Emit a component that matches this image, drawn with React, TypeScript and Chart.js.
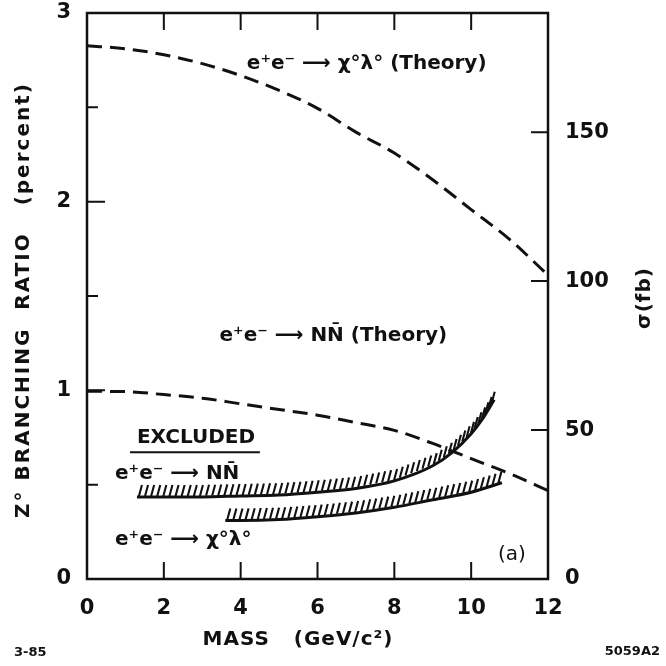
import React, { useEffect, useRef } from 'react';
import { Chart, registerables } from 'chart.js';

Chart.register(...registerables);

// ---- data ----
const massTheory = [0, 1, 2, 3, 4, 5, 6, 7, 8, 9, 10, 11, 12];
const sigmaChiLambdaTheory = [179, 178, 176, 173, 169, 164, 158, 150, 143, 134, 124, 114, 102];
const sigmaNNbarTheory = [63, 62.9, 61.9, 60.7, 58.8, 56.9, 55, 52.5, 49.9, 45.5, 40.4, 35.4, 29.7];
const massNNbarExcl = [1.3, 2, 3, 4, 5, 6, 7, 8, 9, 9.5, 10, 10.3, 10.6];
const brNNbarExcl = [0.435, 0.435, 0.435, 0.44, 0.445, 0.46, 0.48, 0.52, 0.6, 0.67, 0.77, 0.85, 0.95];
const massChiExcl = [3.6, 4, 5, 6, 7, 8, 9, 10, 10.8];
const brChiExcl = [0.31, 0.31, 0.315, 0.33, 0.35, 0.38, 0.42, 0.46, 0.51];
const massTicks = [0, 2, 4, 6, 8, 10, 12];
const brTicks = [0, 0.5, 1, 1.5, 2, 2.5, 3];
const brLabels = [0, 1, 2, 3];
const sigmaTicks = [0, 50, 100, 150];

const INK = '#111';
const FONT = "'DejaVu Sans', 'Liberation Sans', sans-serif";

const toPts = (xs: number[], ys: number[]) => xs.map((x, i) => ({ x, y: ys[i] }));

const framePlugin = {
  id: 'frame',
  afterDatasetsDraw(chart: any) {
    const { ctx, chartArea: a, scales } = chart;
    const sx = scales.x, sy = scales.y, s2 = scales.y2;
    ctx.save();
    ctx.strokeStyle = INK;
    ctx.lineWidth = 2.5;
    ctx.strokeRect(a.left, a.top, a.right - a.left, a.bottom - a.top);
    ctx.lineWidth = 2;
    ctx.beginPath();
    massTicks.forEach((v) => {
      if (v === 0 || v === 12) return;
      const px = sx.getPixelForValue(v);
      ctx.moveTo(px, a.bottom);
      ctx.lineTo(px, a.bottom - 17);
      ctx.moveTo(px, a.top);
      ctx.lineTo(px, a.top + 17);
    });
    brTicks.forEach((v) => {
      if (v === 0 || v === 3) return;
      const py = sy.getPixelForValue(v);
      const len = Number.isInteger(v) ? 18 : 11;
      ctx.moveTo(a.left, py);
      ctx.lineTo(a.left + len, py);
    });
    sigmaTicks.forEach((v) => {
      if (v === 0) return;
      const py = s2.getPixelForValue(v);
      ctx.moveTo(a.right, py);
      ctx.lineTo(a.right - 17, py);
    });
    ctx.stroke();
    ctx.restore();
  },
};

const hatchPlugin = {
  id: 'hatch',
  afterDatasetsDraw(chart: any) {
    const ctx = chart.ctx;
    chart.data.datasets.forEach((ds: any, i: number) => {
      if (!ds.hatch) return;
      const pts = chart.getDatasetMeta(i).data.map((p: any) => ({ x: p.x, y: p.y }));
      ctx.save();
      ctx.strokeStyle = INK;
      ctx.lineWidth = 2.1;
      const spacing = 6.1;
      let carry = 2;
      ctx.beginPath();
      for (let k = 0; k < pts.length - 1; k++) {
        const p = pts[k], q = pts[k + 1];
        const dx = q.x - p.x, dy = q.y - p.y;
        const len = Math.hypot(dx, dy);
        let d = carry;
        while (d <= len) {
          const t = d / len;
          const x = p.x + dx * t, y = p.y + dy * t;
          ctx.moveTo(x, y - 1);
          ctx.lineTo(x + 3, y - 12);
          d += spacing;
        }
        carry = d - len;
      }
      ctx.stroke();
      ctx.restore();
    });
  },
};

const textPlugin = {
  id: 'texts',
  afterDraw(chart: any) {
    const { ctx, scales } = chart;
    const sx = scales.x, sy = scales.y;
    const put = (s: string, gx: number, gy: number, size: number, weight = 'bold') => {
      ctx.font = `${weight} ${size}px ${FONT}`;
      ctx.textAlign = 'left';
      ctx.textBaseline = 'middle';
      ctx.fillText(s, sx.getPixelForValue(gx), sy.getPixelForValue(gy));
    };
    ctx.save();
    ctx.fillStyle = INK;
    put('e\u207Ae\u207B \u27F6 \u03C7\u00B0\u03BB\u00B0 (Theory)', 4.16, 2.73, 20);
    put('e\u207Ae\u207B \u27F6 NN\u0304 (Theory)', 3.45, 1.29, 20);
    put('EXCLUDED', 1.3, 0.75, 20);
    put('e\u207Ae\u207B \u27F6 NN\u0304', 0.73, 0.556, 20);
    put('e\u207Ae\u207B \u27F6 \u03C7\u00B0\u03BB\u00B0', 0.73, 0.207, 20);
    put('(a)', 10.7, 0.127, 20, 'normal');
    // underline of EXCLUDED
    ctx.strokeStyle = INK;
    ctx.lineWidth = 2;
    ctx.beginPath();
    ctx.moveTo(sx.getPixelForValue(1.12), sy.getPixelForValue(0.672));
    ctx.lineTo(sx.getPixelForValue(4.5), sy.getPixelForValue(0.672));
    ctx.stroke();

    // axis titles
    ctx.textAlign = 'center';
    ctx.textBaseline = 'middle';
    ctx.font = `bold 20px ${FONT}`;
    (ctx as any).letterSpacing = '1px';
    ctx.fillText('MASS   (GeV/c\u00B2)', 298, 640);
    ctx.save();
    ctx.translate(24, 300);
    ctx.rotate(-Math.PI / 2);
    (ctx as any).letterSpacing = '2px';
    ctx.fillText('Z\u00B0 BRANCHING  RATIO   (percent)', 0, 0);
    ctx.restore();
    ctx.save();
    ctx.translate(645, 298);
    ctx.rotate(-Math.PI / 2);
    ctx.fillText('\u03C3(fb)', 0, 0);
    ctx.restore();
    (ctx as any).letterSpacing = '0px';
    ctx.font = `bold 13px ${FONT}`;
    ctx.textAlign = 'left';
    ctx.fillText('3-85', 14, 653);
    ctx.textAlign = 'right';
    ctx.fillText('5059A2', 660, 652);
    ctx.restore();
  },
};

export default function App() {
  const ref = useRef<HTMLCanvasElement | null>(null);
  useEffect(() => {
    if (!ref.current) return;
    const tickFont = { family: FONT, size: 21, weight: 'bold' as const };
    const chart = new Chart(ref.current, {
      type: 'line',
      data: {
        datasets: [
          {
            label: 'e+e- → χ°λ° (Theory)',
            data: toPts(massTheory, sigmaChiLambdaTheory),
            yAxisID: 'y2',
            borderColor: INK,
            borderWidth: 3,
            borderDash: [15, 8],
            pointRadius: 0,
            cubicInterpolationMode: 'monotone',
            fill: false,
          },
          {
            label: 'e+e- → NN̄ (Theory)',
            data: toPts(massTheory, sigmaNNbarTheory),
            yAxisID: 'y2',
            borderColor: INK,
            borderWidth: 3,
            borderDash: [15, 8],
            pointRadius: 0,
            cubicInterpolationMode: 'monotone',
            fill: false,
          },
          {
            label: 'Excluded e+e- → NN̄',
            data: toPts(massNNbarExcl, brNNbarExcl),
            yAxisID: 'y',
            borderColor: INK,
            borderWidth: 3,
            pointRadius: 0,
            cubicInterpolationMode: 'monotone',
            fill: false,
            hatch: true,
          } as any,
          {
            label: 'Excluded e+e- → χ°λ°',
            data: toPts(massChiExcl, brChiExcl),
            yAxisID: 'y',
            borderColor: INK,
            borderWidth: 3,
            pointRadius: 0,
            cubicInterpolationMode: 'monotone',
            fill: false,
            hatch: true,
          } as any,
        ],
      },
      options: {
        responsive: false,
        animation: false,
        devicePixelRatio: 1,
        layout: { padding: { top: 13, left: 0, right: 0, bottom: 0 } },
        plugins: { legend: { display: false }, tooltip: { enabled: false } },
        scales: {
          x: {
            type: 'linear',
            min: 0,
            max: 12,
            grid: { display: false, drawTicks: false },
            border: { display: false },
            afterFit: (s: any) => { s.height = 87; s.paddingLeft = 0; s.paddingRight = 0; },
            afterBuildTicks: (s: any) => { s.ticks = massTicks.map((v) => ({ value: v })); },
            ticks: { color: INK, font: tickFont, padding: 17, maxRotation: 0, callback: (v: any) => String(v) },
          },
          y: {
            type: 'linear',
            position: 'left',
            min: 0,
            max: 3,
            grid: { display: false, drawTicks: false },
            border: { display: false },
            afterFit: (s: any) => { s.width = 87; s.paddingTop = 0; s.paddingBottom = 0; },
            afterBuildTicks: (s: any) => { s.ticks = brTicks.map((v) => ({ value: v })); },
            ticks: {
              color: INK,
              font: tickFont,
              padding: 16,
              callback: (v: any) => (brLabels.includes(Number(v)) ? String(v) : ''),
            },
          },
          y2: {
            type: 'linear',
            position: 'right',
            min: 0,
            max: 190,
            grid: { display: false, drawTicks: false },
            border: { display: false },
            afterFit: (s: any) => { s.width = 118; s.paddingTop = 0; s.paddingBottom = 0; },
            afterBuildTicks: (s: any) => { s.ticks = sigmaTicks.map((v) => ({ value: v })); },
            ticks: { color: INK, font: tickFont, padding: 17, callback: (v: any) => String(v) },
          },
        },
      } as any,
      plugins: [framePlugin, hatchPlugin, textPlugin],
    });
    return () => chart.destroy();
  }, []);
  return (
    <div style={{ position: 'fixed', left: 0, top: 0, width: 666, height: 666, background: '#fff' }}>
      <canvas ref={ref} width={666} height={666} />
    </div>
  );
}
